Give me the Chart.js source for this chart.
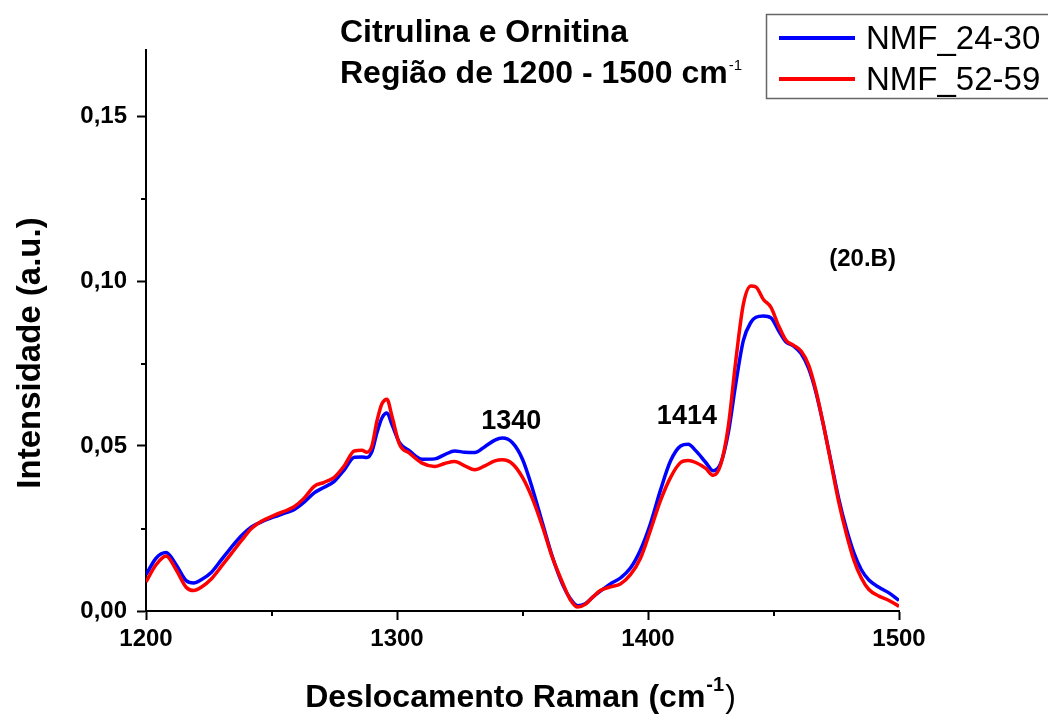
<!DOCTYPE html>
<html><head><meta charset="utf-8">
<script src="https://cdn.jsdelivr.net/npm/chart.js@4.4.0/dist/chart.umd.min.js"></script>
<style>html,body{margin:0;padding:0;background:#fff}canvas{display:block}</style>
</head><body>
<canvas id="c" width="1048" height="718"></canvas>
<script>
// ---- data ----
const wavenumbers = [1200,1204,1208,1212,1216,1219,1222,1226,1230,1234,1238,1242,1246,1251,1255,1259,1263,1267,1271,1275,1279,1283,1286,1288,1290,1292,1294,1296,1298,1301,1305,1310,1315,1319,1323,1327,1331,1335,1339,1342,1346,1350,1354,1358,1362,1366,1369,1372,1375,1378,1381,1385,1389,1393,1397,1401,1405,1409,1413,1416,1419,1423,1426,1429,1432,1435,1438,1441,1443,1446,1449,1452,1455,1458,1461,1464,1467,1470,1473,1476,1479,1482,1485,1488,1492,1496,1500];
const nmf2430 = [0.0110,0.0160,0.0177,0.0140,0.0092,0.0085,0.0095,0.0117,0.0155,0.0193,0.0228,0.0255,0.0270,0.0285,0.0296,0.0307,0.0330,0.0358,0.0375,0.0393,0.0428,0.0466,0.0467,0.0465,0.0483,0.0540,0.0585,0.0600,0.0565,0.0510,0.0485,0.0460,0.0461,0.0474,0.0485,0.0481,0.0480,0.0498,0.0518,0.0524,0.0510,0.0460,0.0370,0.0265,0.0162,0.0080,0.0038,0.0016,0.0022,0.0042,0.0060,0.0082,0.0100,0.0130,0.0185,0.0265,0.0367,0.0455,0.0500,0.0505,0.0486,0.0450,0.0425,0.0448,0.0540,0.0690,0.0820,0.0875,0.0890,0.0894,0.0888,0.0850,0.0815,0.0803,0.0780,0.0735,0.0660,0.0560,0.0450,0.0340,0.0250,0.0177,0.0125,0.0094,0.0072,0.0055,0.0032];
const nmf5259 = [0.0088,0.0140,0.0167,0.0125,0.0072,0.0062,0.0072,0.0097,0.0135,0.0174,0.0213,0.0250,0.0272,0.0290,0.0302,0.0316,0.0342,0.0378,0.0390,0.0405,0.0440,0.0485,0.0487,0.0481,0.0500,0.0575,0.0628,0.0642,0.0590,0.0505,0.0478,0.0448,0.0438,0.0447,0.0453,0.0440,0.0428,0.0440,0.0455,0.0458,0.0446,0.0405,0.0340,0.0255,0.0160,0.0085,0.0035,0.0012,0.0020,0.0042,0.0062,0.0073,0.0082,0.0110,0.0160,0.0245,0.0335,0.0405,0.0450,0.0456,0.0450,0.0432,0.0411,0.0445,0.0560,0.0760,0.0930,0.0985,0.0982,0.0944,0.0920,0.0865,0.0820,0.0805,0.0788,0.0745,0.0665,0.0560,0.0445,0.0330,0.0235,0.0155,0.0100,0.0065,0.0045,0.0032,0.0014];
const seriesNames = ['NMF_24-30', 'NMF_52-59'];
const xTickValues = [1200, 1300, 1400, 1500];
const xMinorTicks = [1250, 1350, 1450];
const yTickValues = [0, 0.05, 0.10, 0.15];
const yMinorTicks = [0.025, 0.075, 0.125];
const peakLabels = ['1340', '1414'];
const panelLabel = '(20.B)';

// ---- styles ----
const FONT = "'Liberation Sans', Arial, Helvetica, sans-serif";
const BLUE = '#0000ff', RED = '#ff0000';

const toPts = arr => wavenumbers.map((w, i) => ({x: w, y: arr[i]}));

const decor = {
  id: 'decor',
  afterDraw(chart) {
    const ctx = chart.ctx;
    const xs = chart.scales.x, ys = chart.scales.y;
    ctx.save();
    // minor ticks
    ctx.strokeStyle = '#000'; ctx.lineWidth = 2;
    xMinorTicks.forEach(v => {
      const px = Math.round(xs.getPixelForValue(v));
      ctx.beginPath(); ctx.moveTo(px, xs.top); ctx.lineTo(px, xs.top + 5); ctx.stroke();
    });
    yMinorTicks.forEach(v => {
      const py = Math.round(ys.getPixelForValue(v));
      ctx.beginPath(); ctx.moveTo(ys.right, py); ctx.lineTo(ys.right - 5, py); ctx.stroke();
    });
    ctx.fillStyle = '#000';
    ctx.textAlign = 'left'; ctx.textBaseline = 'alphabetic';
    // title
    ctx.font = 'bold 32px ' + FONT;
    ctx.fillText('Citrulina e Ornitina', 340, 42);
    const t2 = 'Região de 1200 - 1500 cm';
    ctx.fillText(t2, 340, 83);
    let w2 = ctx.measureText(t2).width;
    ctx.font = '15px ' + FONT;
    ctx.fillText('-1', 340 + w2 + 1, 70);
    // x title
    const xt = 'Deslocamento Raman (cm';
    ctx.font = 'bold 32px ' + FONT;
    const wm = ctx.measureText(xt).width;
    ctx.font = 'bold 20px ' + FONT;
    const ws = ctx.measureText('-1').width;
    ctx.font = '32px ' + FONT;
    const wp = ctx.measureText(')').width;
    const total = wm + ws + 2 + wp;
    const cx = (xs.left + xs.right) / 2 - 2;
    let sx = cx - total / 2;
    ctx.font = 'bold 32px ' + FONT;
    ctx.fillText(xt, sx, 707);
    ctx.font = 'bold 20px ' + FONT;
    ctx.fillText('-1', sx + wm + 1, 691);
    ctx.font = '32px ' + FONT;
    ctx.fillText(')', sx + wm + ws + 2, 707);
    // y title
    ctx.save();
    ctx.translate(40, 353);
    ctx.rotate(-Math.PI / 2);
    ctx.textAlign = 'center';
    ctx.font = 'bold 33px ' + FONT;
    ctx.fillText('Intensidade (a.u.)', 0, 0);
    ctx.restore();
    // peak labels
    ctx.textAlign = 'center';
    ctx.font = 'bold 27px ' + FONT;
    ctx.fillText(peakLabels[0], xs.getPixelForValue(1345.5), ys.getPixelForValue(0.0553));
    ctx.fillText(peakLabels[1], xs.getPixelForValue(1415.5), ys.getPixelForValue(0.0566));
    ctx.font = 'bold 24px ' + FONT;
    ctx.fillText(panelLabel, xs.getPixelForValue(1485.5), ys.getPixelForValue(0.1045));
    // legend
    ctx.strokeStyle = '#666'; ctx.lineWidth = 1.5;
    ctx.strokeRect(766.5, 14.5, 320, 84);
    const ds = chart.data.datasets;
    [[0, 38, 49], [1, 79, 90]].forEach(([i, ly, by]) => {
      ctx.strokeStyle = ds[i].borderColor; ctx.lineWidth = 4;
      ctx.beginPath(); ctx.moveTo(779, ly); ctx.lineTo(855, ly); ctx.stroke();
      ctx.fillStyle = '#000'; ctx.textAlign = 'left';
      ctx.font = '33px ' + FONT;
      ctx.fillText(ds[i].label, 866, by);
    });
    ctx.restore();
  }
};

new Chart(document.getElementById('c'), {
  type: 'line',
  data: {
    datasets: [
      {label: seriesNames[0], data: toPts(nmf2430), borderColor: BLUE, borderWidth: 3.5, pointRadius: 0, cubicInterpolationMode: 'monotone', order: 2, fill: false},
      {label: seriesNames[1], data: toPts(nmf5259), borderColor: RED, borderWidth: 3.5, pointRadius: 0, cubicInterpolationMode: 'monotone', order: 1, fill: false}
    ]
  },
  options: {
    responsive: false,
    animation: false,
    layout: {padding: {left: 0, top: 50, right: 149, bottom: 0}},
    plugins: {legend: {display: false}, tooltip: {enabled: false}, title: {display: false}},
    scales: {
      x: {
        type: 'linear', min: 1200, max: 1500,
        afterFit: s => { s.height = 107; },
        afterBuildTicks: s => { s.ticks = xTickValues.map(v => ({value: v})); },
        grid: {drawOnChartArea: false, drawTicks: true, tickLength: 9, tickWidth: 2, tickColor: '#000'},
        border: {display: true, color: '#000', width: 2},
        ticks: {color: '#000', padding: 5, maxRotation: 0, font: {family: FONT, size: 24, weight: 'bold'}, callback: v => String(v)}
      },
      y: {
        type: 'linear', min: 0, max: 0.17,
        afterFit: s => { s.width = 146; },
        afterBuildTicks: s => { s.ticks = yTickValues.map(v => ({value: v})); },
        grid: {drawOnChartArea: false, drawTicks: true, tickLength: 9, tickWidth: 2, tickColor: '#000'},
        border: {display: true, color: '#000', width: 2},
        ticks: {color: '#000', padding: 10, font: {family: FONT, size: 24, weight: 'bold'}, callback: v => v.toFixed(2).replace('.', ',')}
      }
    }
  },
  plugins: [decor]
});
</script>
</body></html>
